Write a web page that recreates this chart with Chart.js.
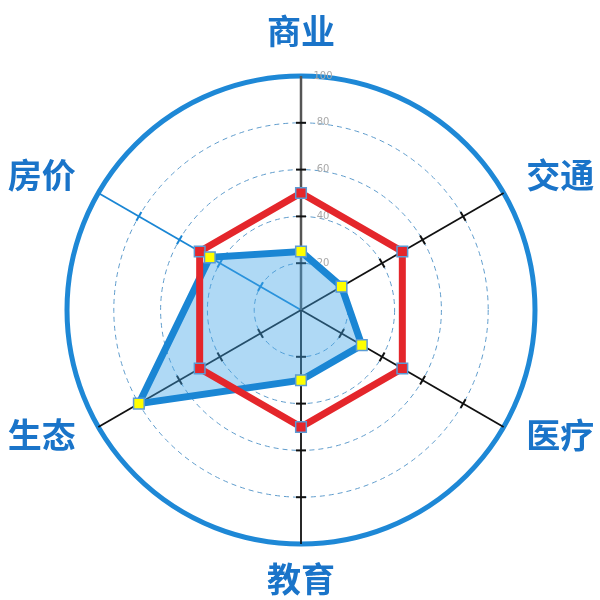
<!DOCTYPE html>
<html>
<head>
<meta charset="utf-8">
<script src="https://cdn.jsdelivr.net/npm/chart.js@4/dist/chart.umd.min.js"></script>
<style>
  html, body { margin: 0; padding: 0; background: #fff; }
  #wrap { width: 600px; height: 600px; position: relative; }
</style>
</head>
<body>
<div id="wrap"><canvas id="chart"></canvas></div>
<script>
const categories = ['商业', '交通', '医疗', '教育', '生态', '房价'];
const targetValues = [50, 50, 50, 50, 50, 50];
const cityValues = [25, 20, 30, 30, 80, 45];
const tickValues = [20, 40, 60, 80, 100];

const labelBlue = '#1a74c9';
const lineBlue = '#1a86d4';

// 轴上的小刻度、刻度文字和外侧类别文字
const radarDecor = {
  id: 'radarDecor',
  beforeDatasetsDraw(chart) {
    const scale = chart.scales.r;
    const ctx = chart.ctx;
    ctx.save();
    categories.forEach((name, i) => {
      const angle = scale.getIndexAngle(i) - Math.PI / 2;
      const nx = -Math.sin(angle);
      const ny = Math.cos(angle);
      ctx.strokeStyle = i === 5 ? lineBlue : '#111';
      ctx.lineWidth = 2;
      tickValues.slice(0, 4).forEach(v => {
        const p = scale.getPointPositionForValue(i, v);
        ctx.beginPath();
        ctx.moveTo(p.x - nx * 5, p.y - ny * 5);
        ctx.lineTo(p.x + nx * 5, p.y + ny * 5);
        ctx.stroke();
      });
    });
    ctx.fillStyle = '#a9a9a9';
    ctx.font = '10px "DejaVu Sans"';
    ctx.textAlign = 'center';
    ctx.textBaseline = 'middle';
    tickValues.forEach(v => {
      const p = scale.getPointPositionForValue(0, v);
      ctx.fillText(String(v), p.x + 22, p.y);
    });
    ctx.restore();
  },
  afterDraw(chart) {
    const scale = chart.scales.r;
    const ctx = chart.ctx;
    const r = scale.drawingArea;
    ctx.save();
    ctx.fillStyle = labelBlue;
    ctx.font = 'bold 34px "Noto Sans CJK SC"';
    categories.forEach((name, i) => {
      const angle = scale.getIndexAngle(i) - Math.PI / 2;
      const c = Math.cos(angle);
      let p;
      if (Math.abs(c) < 0.01) {
        p = scale.getPointPosition(i, r + 40);
        ctx.textAlign = 'center';
      } else {
        p = scale.getPointPosition(i, r + 26);
        ctx.textAlign = c > 0 ? 'left' : 'right';
      }
      ctx.textBaseline = 'middle';
      ctx.fillText(name, p.x, p.y - 5);
    });
    ctx.restore();
  }
};

new Chart(document.getElementById('chart'), {
  type: 'radar',
  data: {
    labels: categories,
    datasets: [
      {
        // 黄色点放在最上层
        data: cityValues,
        showLine: false,
        fill: false,
        pointStyle: 'rect',
        pointRadius: 7.5,
        pointBackgroundColor: '#ffff00',
        pointBorderColor: '#5b9bd5',
        pointBorderWidth: 1.5,
        order: 0
      },
      {
        data: targetValues,
        borderColor: '#e4262b',
        borderWidth: 7,
        fill: false,
        pointStyle: 'rect',
        pointRadius: 7.5,
        pointBackgroundColor: '#e4262b',
        pointBorderColor: '#5b9bd5',
        pointBorderWidth: 1.5,
        order: 1
      },
      {
        data: cityValues,
        borderColor: lineBlue,
        borderWidth: 7,
        borderJoinStyle: 'miter',
        backgroundColor: 'rgba(64,164,230,0.42)',
        fill: true,
        pointRadius: 0,
        order: 2
      }
    ]
  },
  options: {
    responsive: true,
    maintainAspectRatio: false,
    animation: false,
    layout: { padding: { left: 67, right: 65, top: 76, bottom: 56 } },
    plugins: { legend: { display: false }, tooltip: { enabled: false } },
    scales: {
      r: {
        min: 0,
        max: 100,
        ticks: { stepSize: 20, display: false },
        pointLabels: { display: false },
        grid: {
          circular: true,
          color: ctx => ctx.tick && ctx.tick.value === 100 ? '#1e88d6' : '#5f9ccc',
          lineWidth: ctx => ctx.tick && ctx.tick.value === 100 ? 5 : 1
        },
        border: {
          dash: ctx => ctx.tick && ctx.tick.value === 100 ? [] : [5, 4]
        },
        angleLines: {
          color: ctx => ctx.index === 5 ? lineBlue : (ctx.index === 0 ? '#555' : '#111'),
          lineWidth: ctx => ctx.index === 0 ? 2.5 : 1.8
        }
      }
    }
  },
  plugins: [radarDecor]
});
</script>
</body>
</html>
